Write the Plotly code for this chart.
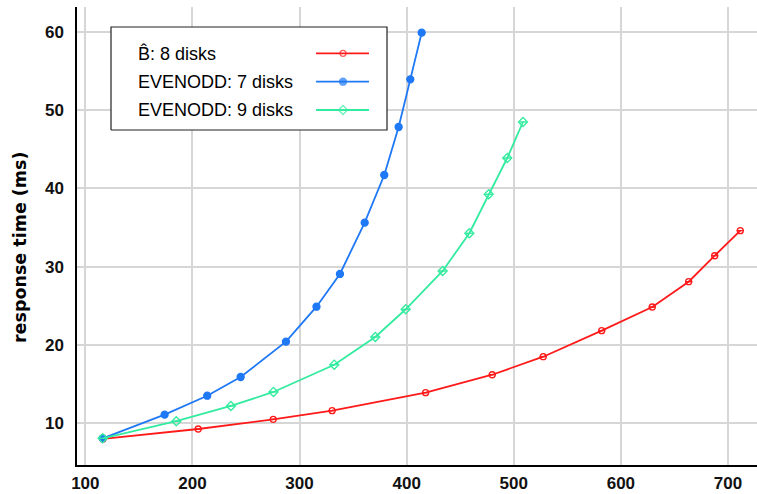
import plotly.graph_objects as go

# ---- data ----
b8_x = [116.4, 205.4, 275.4, 330.4, 417.7, 479.9, 527.5, 582.1, 629.3, 663.3, 687.6, 711.5]
b8_y = [8.0, 9.27, 10.5, 11.61, 13.91, 16.2, 18.5, 21.83, 24.85, 28.08, 31.4, 34.6]

e7_x = [116.2, 174.0, 213.8, 245.0, 287.3, 315.8, 337.7, 360.8, 379.1, 392.5, 403.4, 414.0]
e7_y = [8.08, 11.10, 13.52, 15.91, 20.42, 24.89, 29.07, 35.62, 41.71, 47.84, 53.93, 59.89]

e9_x = [116.2, 184.9, 235.9, 275.6, 332.4, 370.7, 399.1, 433.6, 458.5, 476.6, 493.9, 508.6]
e9_y = [8.08, 10.26, 12.21, 14.0, 17.48, 21.02, 24.56, 29.45, 34.27, 39.25, 43.88, 48.48]

names = ["B\u0302: 8 disks", "EVENODD: 7 disks", "EVENODD: 9 disks"]
x_ticks = [100, 200, 300, 400, 500, 600, 700]
y_ticks = [10, 20, 30, 40, 50, 60]
y_title = "response time (ms)"

RED = "#ff1a1a"
BLUE = "#1f78f5"
GREEN = "#33eb9f"

styles = [
    dict(color=RED, symbol="circle-open", size=6),
    dict(color=BLUE, symbol="circle", size=7),
    dict(color=GREEN, symbol="diamond-open", size=7),
]

fig = go.Figure()
for (xs, ys), st, nm in zip([(b8_x, b8_y), (e7_x, e7_y), (e9_x, e9_y)], styles, names):
    fig.add_trace(go.Scatter(
        x=xs, y=ys, mode="lines+markers", name=nm, showlegend=False,
        line=dict(color=st["color"], width=1.8),
        marker=dict(color=st["color"], symbol=st["symbol"], size=st["size"],
                    line=dict(color=st["color"], width=1.3)),
        error_y=dict(type="constant", value=0, width=3.5, thickness=1, color=st["color"]),
    ))

# ---- custom legend (overlay axes in 0..1 coordinates) ----
bx0, bx1, by0, by1 = 0.05, 0.4559, 0.7314, 0.9563
fig.add_trace(go.Scatter(
    x=[bx0, bx1, bx1, bx0, bx0], y=[by0, by0, by1, by1, by0],
    mode="lines", fill="toself", fillcolor="white",
    line=dict(color="#222222", width=1.2), xaxis="x2", yaxis="y2",
    showlegend=False, hoverinfo="skip"))

rows = [0.8989, 0.8369, 0.7751]
kx0, km, kx1 = 0.3515, 0.3912, 0.4294
for st, nm, ry in zip(styles, names, rows):
    fig.add_trace(go.Scatter(
        x=[kx0, km, kx1], y=[ry, ry, ry], mode="lines+markers",
        line=dict(color=st["color"], width=1.8),
        marker=dict(color=st["color"], symbol=st["symbol"], size=[0, st["size"], 0],
                    line=dict(color=st["color"], width=1.3)),
        xaxis="x2", yaxis="y2", showlegend=False, hoverinfo="skip"))
    fig.add_annotation(x=0.0868, y=ry, xref="paper", yref="paper", text=nm,
                       showarrow=False, xanchor="left", yanchor="middle",
                       font=dict(family="Liberation Sans, Arial, sans-serif", size=18, color="black"))

# y-axis title (placed as rotated text to match vertical offset)
fig.add_annotation(x=-0.0838, y=0.476, xref="paper", yref="paper", text=y_title,
                   showarrow=False, textangle=-90, xanchor="center", yanchor="middle",
                   font=dict(family="DejaVu Sans, sans-serif", size=17.5, color="black",
                             weight="bold"))

tick_font = dict(family="Liberation Sans, Arial, sans-serif", size=17,
                 color="#111111", weight="bold")

fig.update_layout(
    width=757, height=494,
    margin=dict(l=77, r=0, t=7, b=29),
    paper_bgcolor="white", plot_bgcolor="white",
    showlegend=False,
    xaxis=dict(range=[92.2, 727.1], tickvals=x_ticks, showgrid=True,
               gridcolor="#d6d6d6", gridwidth=1.8, showline=True, linecolor="black",
               linewidth=1.5, zeroline=False, ticks="", tickfont=tick_font,
               ticklabelstandoff=2, automargin=False),
    yaxis=dict(range=[4.67, 63.17], tickvals=y_ticks, showgrid=True,
               gridcolor="#d6d6d6", gridwidth=1.8, showline=True, linecolor="black",
               linewidth=1.5, zeroline=False, ticks="", tickfont=tick_font,
               ticklabelstandoff=8, automargin=False),
    xaxis2=dict(overlaying="x", range=[0, 1], visible=False, fixedrange=True),
    yaxis2=dict(overlaying="y", range=[0, 1], visible=False, fixedrange=True),
)

fig.write_html("out.html")
